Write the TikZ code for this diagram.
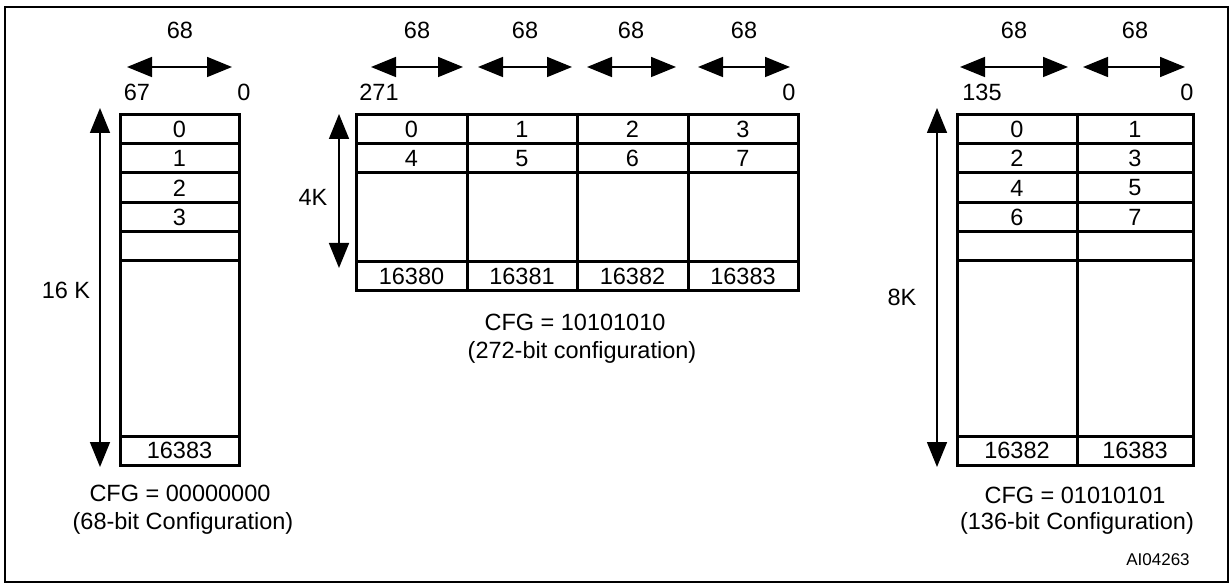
\documentclass[tikz,border=0pt]{standalone}
\usepackage{fontspec}
\setmainfont{Liberation Sans}
\usetikzlibrary{arrows.meta}
\begin{document}
\begin{tikzpicture}[x=1pt,y=-1pt,
  cell/.style={line width=3pt},
  dim/.style={line width=1.6pt,{Triangle[length=25pt,width=20pt]}-{Triangle[length=25pt,width=20pt]}},
  lbl/.style={font=\fontsize{23.5}{26}\selectfont,inner sep=0pt},
  small/.style={font=\fontsize{17}{19}\selectfont,inner sep=0pt}]
\useasboundingbox (0,0) rectangle (1231,585);
\draw[line width=2pt] (5,7) rectangle (1228,582);
% ---------- left block ----------
\draw[cell] (120,115) rectangle (239,465);
\foreach \y in {144,173,203,232,261,436} \draw[cell] (120,\y) -- (239,\y);
\foreach \t/\y in {0/129.5,1/158.5,2/188,3/217.5} \node[lbl] (L\t) at (179.5,\y) {\t};
\node[lbl] (L16383) at (179.5,450.5) {16383};
\coordinate (la1) at (127,67); \coordinate (la2) at (232,67);
\draw[dim] (la1) -- (la2);
\node[lbl] (l68) at (180,30) {68};
\node[lbl] (l67) at (137,92) {67};
\node[lbl] (l0) at (244,92) {0};
\coordinate (lv1) at (100,108); \coordinate (lv2) at (100,467);
\draw[dim] (lv1) -- (lv2);
\node[lbl] (l16k) at (66,290) {16 K};
\node[lbl] (lcfg) at (180,493) {CFG = 00000000};
\node[lbl] (lconf) at (183,523) {(68-bit Configuration)};
% ---------- middle block ----------
\draw[cell] (356,115) rectangle (798,291);
\foreach \y in {144,173,262} \draw[cell] (356,\y) -- (798,\y);
\foreach \x in {467,577,688} \draw[cell] (\x,115) -- (\x,291);
\foreach \t/\x in {0/411.5,1/522,2/632.5,3/743} \node[lbl] (M\t) at (\x,129.5) {\t};
\foreach \t/\x in {4/411.5,5/522,6/632.5,7/743} \node[lbl] (M\t) at (\x,158.5) {\t};
\foreach \t/\x in {16380/411.5,16381/522,16382/632.5,16383/743} \node[lbl] (M\t) at (\x,276.5) {\t};
\foreach \i/\a/\b in {1/371/463,2/478/572,3/587/676,4/698/790} {
  \coordinate (ma\i) at (\a,67); \coordinate (mb\i) at (\b,67);
  \draw[dim] (ma\i) -- (mb\i);
}
\foreach \i/\x in {1/417,2/525,3/631,4/744} \node[lbl] (m68\i) at (\x,30) {68};
\node[lbl] (m271) at (379,92) {271};
\node[lbl] (m0) at (789,92) {0};
\coordinate (mv1) at (339,114); \coordinate (mv2) at (339,268);
\draw[dim] (mv1) -- (mv2);
\node[lbl] (m4k) at (313,197) {4K};
\node[lbl] (mcfg) at (575,322) {CFG = 10101010};
\node[lbl] (mconf) at (582,352) {(272-bit configuration)};
% ---------- right block ----------
\draw[cell] (957,115) rectangle (1193,465);
\foreach \y in {144,173,203,232,261,436} \draw[cell] (957,\y) -- (1193,\y);
\draw[cell] (1077,115) -- (1077,465);
\foreach \a/\b/\y in {0/1/129.5,2/3/158.5,4/5/188,6/7/217.5} {
  \node[lbl] (R\a) at (1017,\y) {\a};
  \node[lbl] (R\b) at (1135,\y) {\b};
}
\node[lbl] (R16382) at (1017,450.5) {16382};
\node[lbl] (R16383) at (1135,450.5) {16383};
\coordinate (ra1) at (960,67); \coordinate (rb1) at (1068,67);
\coordinate (ra2) at (1083,67); \coordinate (rb2) at (1185,67);
\draw[dim] (ra1) -- (rb1);
\draw[dim] (ra2) -- (rb2);
\node[lbl] (r681) at (1014,30) {68};
\node[lbl] (r682) at (1135,30) {68};
\node[lbl] (r135) at (982,92) {135};
\node[lbl] (r0) at (1187,92) {0};
\coordinate (rv1) at (937,108); \coordinate (rv2) at (937,467);
\draw[dim] (rv1) -- (rv2);
\node[lbl] (r8k) at (902,297) {8K};
\node[lbl] (rcfg) at (1075,495) {CFG = 01010101};
\node[lbl] (rconf) at (1077,523) {(136-bit Configuration)};
\node[small] (id) at (1158,560) {AI04263};
\end{tikzpicture}
\end{document}
